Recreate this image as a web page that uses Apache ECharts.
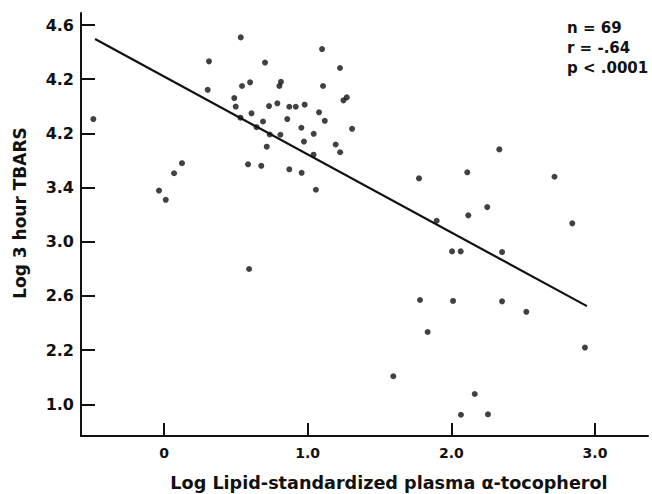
<!DOCTYPE html>
<html>
<head>
<meta charset="utf-8">
<script src="https://cdn.jsdelivr.net/npm/echarts@6/dist/echarts.min.js"></script>
<style>html,body{margin:0;padding:0;background:#fff}#c{width:652px;height:494px}</style>
</head>
<body>
<div id="c"></div>
<script>
// Log lipid-standardized plasma alpha-tocopherol (x)
var tocoX = [0.534,1.100,0.313,0.703,1.225,0.304,0.543,0.599,0.814,0.803,1.107,1.272,1.249,0.489,0.499,0.609,0.731,0.789,0.872,0.917,0.979,1.079,0.532,0.689,0.858,1.119,0.644,0.956,1.309,0.736,0.810,1.042,0.974,0.715,1.195,1.226,1.041,0.585,0.677,0.872,0.958,1.057,0.125,0.070,-0.035,0.012,-0.492,0.592,
  2.334,1.775,2.111,2.718,2.250,2.118,1.898,2.842,2.005,2.065,2.353,1.782,2.012,2.353,2.522,1.835,2.930,1.596,2.163,2.067,2.255];
// Log 3 hour TBARS (y)
var tbarsY = [4.509,4.423,4.332,4.323,4.283,4.122,4.150,4.177,4.181,4.150,4.150,4.066,4.044,4.061,3.998,3.948,4.002,4.022,3.997,3.997,4.012,3.956,3.916,3.888,3.906,3.893,3.846,3.842,3.834,3.792,3.790,3.797,3.740,3.702,3.718,3.661,3.643,3.572,3.561,3.535,3.509,3.384,3.580,3.506,3.378,3.310,3.906,2.799,
  3.682,3.468,3.513,3.480,3.256,3.195,3.155,3.136,2.929,2.929,2.924,2.570,2.563,2.560,2.483,2.334,2.219,2.007,1.876,1.723,1.726];
// regression line end points
var regX = [-0.48, 2.944];
var regY = [4.497, 2.525];
// ticks
var xTickValues = [0, 1, 2, 3];
var xTickLabels = ["0", "1.0", "2.0", "3.0"];
var yTickValues = [1.8, 2.2, 2.6, 3.0, 3.4, 3.8, 4.2, 4.6];
var yTickLabels = ["1.0", "2.2", "2.6", "3.0", "3.4", "4.2", "4.2", "4.6"];
var statsText = ["n = 69", "r = -.64", "p < .0001"];

function lookup(vals, labels, v) {
  var best = 0, bd = Infinity;
  for (var i = 0; i < vals.length; i++) { var d = Math.abs(vals[i] - v); if (d < bd) { bd = d; best = i; } }
  return labels[best];
}
var pts = tocoX.map(function (x, i) { return [x, tbarsY[i]]; });
var reg = regX.map(function (x, i) { return [x, regY[i]]; });
var FONT = 'DejaVu Sans';
var INK = '#111';

var chart = echarts.init(document.getElementById('c'), null, { renderer: 'svg' });
chart.setOption({
  animation: false,
  backgroundColor: '#fff',
  grid: { left: 81, right: 4, top: 13, bottom: 58, containLabel: false, outerBoundsMode: 'none' },
  xAxis: {
    type: 'value', min: -0.578, max: 3.369,
    name: 'Log Lipid-standardized plasma \u03b1-tocopherol',
    nameLocation: 'middle', nameGap: 38,
    nameTextStyle: { fontFamily: FONT, fontWeight: 'bold', fontSize: 17.6, color: INK, padding: [0, 0, 0, 49] },
    axisLine: { onZero: false, lineStyle: { color: INK, width: 2 } },
    axisTick: { inside: true, length: 13, lineStyle: { color: INK, width: 2 }, customValues: xTickValues },
    axisLabel: { customValues: xTickValues, margin: 10, fontFamily: FONT, fontWeight: 'bold', fontSize: 14, color: INK,
      formatter: function (v) { return lookup(xTickValues, xTickLabels, v); } },
    splitLine: { show: false }
  },
  yAxis: {
    type: 'value', min: 1.566, max: 4.689,
    name: 'Log 3 hour TBARS',
    nameLocation: 'middle', nameGap: 53,
    nameTextStyle: { fontFamily: FONT, fontWeight: 'bold', fontSize: 17, color: INK, padding: [0, 0, 0, 23] },
    axisLine: { show: true, onZero: false, lineStyle: { color: INK, width: 2 } },
    axisTick: { show: true, inside: true, length: 14, lineStyle: { color: INK, width: 2 }, customValues: yTickValues },
    axisLabel: { customValues: yTickValues, margin: 7, fontFamily: FONT, fontWeight: 'bold', fontSize: 16, color: INK,
      formatter: function (v) { return lookup(yTickValues, yTickLabels, v); } },
    splitLine: { show: false }
  },
  graphic: [{
    type: 'text', left: 567, top: 18,
    style: { text: statsText.join('\n'), fontFamily: FONT, fontWeight: 'bold', fontSize: 15, lineHeight: 20, fill: INK }
  }],
  series: [
    { type: 'scatter', data: pts, symbol: 'circle', symbolSize: 6, itemStyle: { color: INK }, silent: true },
    { type: 'line', data: reg, showSymbol: false, lineStyle: { color: INK, width: 2.2 }, silent: true }
  ]
});
</script>
</body>
</html>
